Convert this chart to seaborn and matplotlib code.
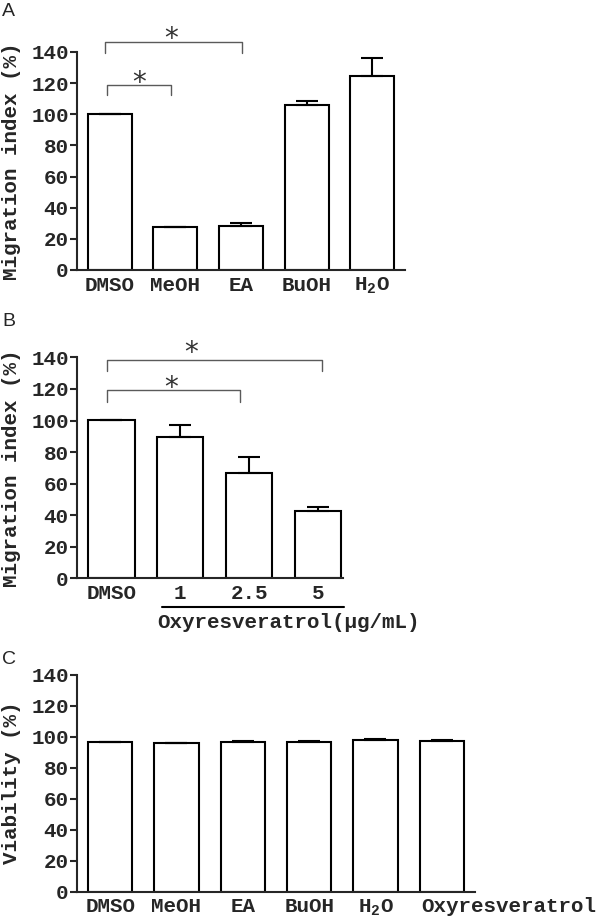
import matplotlib
matplotlib.use("Agg")
import matplotlib.pyplot as plt
import matplotlib.transforms as mtransforms
import numpy as np
import seaborn as sns

# ── data ──────────────────────────────────────
cats_a = ["DMSO", "MeOH", "EA", "BuOH", "H$_2$O"]
mig_a = [100, 27.8, 28.2, 106.2, 124.8]
err_a = [0, 0, 2.2, 2.6, 11.3]

cats_b = ["DMSO", "1", "2.5", "5"]
mig_b = [100.5, 89.8, 66.8, 42.9]
err_b = [0, 7.1, 9.8, 2.4]

cats_c = ["DMSO", "MeOH", "EA", "BuOH", "H$_2$O", "Oxyresveratrol"]
via_c = [96.3, 95.8, 96.5, 96.8, 98.1, 97.3]
err_c = [0.3, 0.3, 0.6, 0.6, 0.3, 0.8]

# significance brackets: (x start, x end, bar height, tick bottom, star x, star gap px)
sig_a = [(-0.04, 0.94, 118.8, 112.4, 0.45, 8), (-0.07, 2.02, 146.4, 139.4, 0.93, 9)]
sig_b = [(-0.07, 1.87, 119.3, 111.9, 0.86, 8), (-0.07, 3.06, 138.3, 131.5, 1.16, 13)]

# ── style ─────────────────────────────────────
sns.set_style("ticks")
plt.rcParams["font.family"] = ["Liberation Mono", "DejaVu Sans Mono"]
plt.rcParams["font.weight"] = "bold"
plt.rcParams["axes.labelweight"] = "bold"
plt.rcParams["mathtext.fontset"] = "custom"
plt.rcParams["mathtext.rm"] = "Liberation Mono:bold"
plt.rcParams["mathtext.it"] = "Liberation Mono:bold"
plt.rcParams["mathtext.bf"] = "Liberation Mono:bold"
plt.rcParams["mathtext.default"] = "rm"

FS = 15
LW = 1.5
GRAY = "#5a5a5a"


def bar_panel(ax, cats, vals, errs, ylabel, xlim, label_x):
    sns.barplot(x=cats, y=vals, order=cats, color="white", saturation=1,
                edgecolor="black", linewidth=LW, width=0.67,
                errorbar=None, ax=ax)
    pos = np.arange(len(cats))
    ax.errorbar(pos, vals, yerr=[np.zeros(len(errs)), errs], fmt="none",
                ecolor="black", elinewidth=LW, capsize=8, capthick=LW)
    ax.set_ylim(0, 140)
    ax.set_yticks(range(0, 141, 20))
    ax.set_xlim(*xlim)
    ax.set_ylabel(ylabel, fontsize=FS)
    ax.yaxis.set_label_coords(label_x, 0.5)
    ax.tick_params(axis="y", labelsize=FS, length=5, width=LW, pad=1)
    ax.tick_params(axis="x", labelsize=FS, length=0, pad=4)
    for s in ["left", "bottom"]:
        ax.spines[s].set_linewidth(LW)
    sns.despine(ax=ax)


def brackets(ax, sigs):
    for x1, x2, y, yb, sx, gap in sigs:
        ax.plot([x1, x1, x2, x2], [yb, y, y, yb], color=GRAY, lw=1,
                clip_on=False)
        ax.annotate("*", xy=(sx, y), xytext=(0, (gap - 6) * 0.72),
                    textcoords="offset points", ha="center", va="center",
                    fontsize=20, color="#333333", family="DejaVu Sans",
                    fontweight="normal", annotation_clip=False)


fig = plt.figure(figsize=(6, 9.18), dpi=100)
ax_a = fig.add_axes([0.1283, 0.7059, 0.5467, 0.2375])
ax_b = fig.add_axes([0.1283, 0.3700, 0.4433, 0.2407])
ax_c = fig.add_axes([0.1283, 0.02865, 0.6633, 0.2364])

bar_panel(ax_a, cats_a, mig_a, err_a, "Migration index (%)", (-0.5, 4.5), -0.171)
bar_panel(ax_b, cats_b, mig_b, err_b, "Migration index (%)", (-0.5, 3.36), -0.2105)
bar_panel(ax_c, cats_c, via_c, err_c, "Viability (%)", (-0.5, 5.5), -0.1407)

brackets(ax_a, sig_a)
brackets(ax_b, sig_b)

# long last label in panel C starts at the bar's left edge
last = ax_c.get_xticklabels()[-1]
last.set_horizontalalignment("left")
last.set_transform(last.get_transform() +
                   mtransforms.ScaledTranslation(-0.21, 0, fig.dpi_scale_trans))

# dose group underline for panel B
ax_b.plot([0.74, 3.38], [-0.13, -0.13], color="black", lw=LW,
          transform=ax_b.get_xaxis_transform(), clip_on=False)
ax_b.text(0.67, -0.198, "Oxyresveratrol(\u00b5g/mL)", ha="left", va="center",
          fontsize=FS, transform=ax_b.get_xaxis_transform())

for letter, ytop in [("A", 3), ("B", 313), ("C", 651)]:
    fig.text(0.004, 1 - ytop / 918, letter, ha="left", va="top",
             fontsize=14, family="Liberation Sans", fontweight="normal")

fig.savefig("out.png", dpi=100)
